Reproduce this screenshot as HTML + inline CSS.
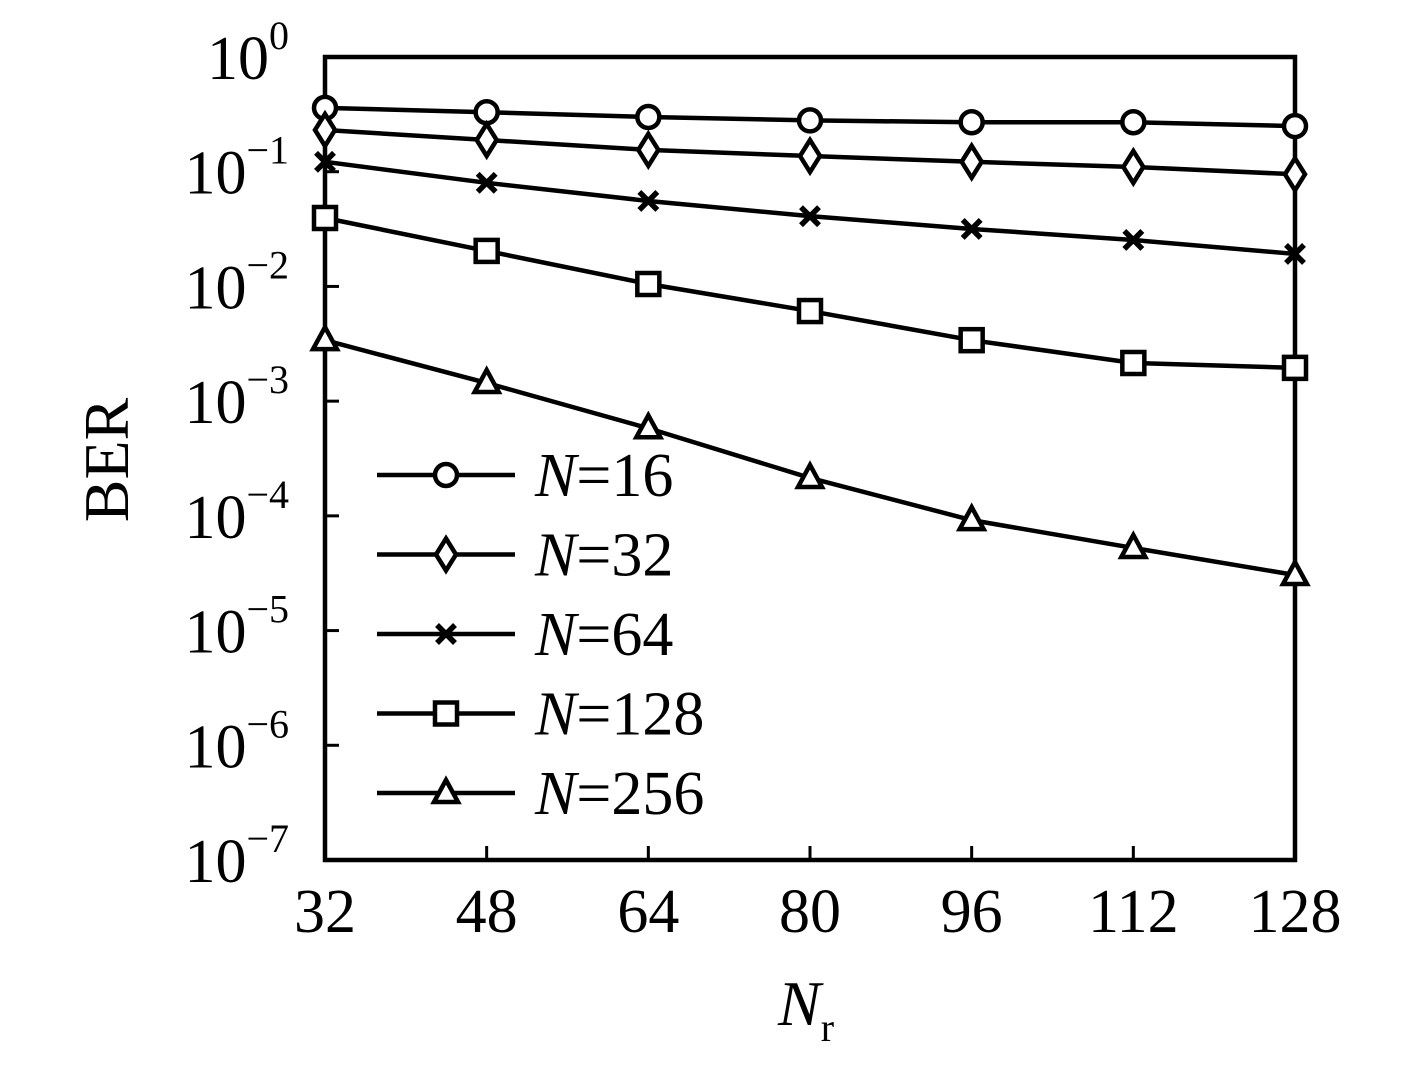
<!DOCTYPE html>
<html><head><meta charset="utf-8"><style>
html,body{margin:0;padding:0;background:#fff;}
svg text{font-family:"Liberation Serif",serif;fill:#000;}
</style></head><body>
<svg id="chart" width="1417" height="1060" viewBox="0 0 1417 1060" xmlns="http://www.w3.org/2000/svg">
<g id="plot"></g>
</svg>
<script>
const categories = [32, 48, 64, 80, 96, 112, 128];
const seriesNames = ["N=16","N=32","N=64","N=128","N=256"];
const markers = ["circle","diamond","cross","square","triangle"];
const s16 = [0.36, 0.33, 0.30, 0.28, 0.27, 0.27, 0.25];
const s32 = [0.231, 0.189, 0.155, 0.137, 0.122, 0.11, 0.095];
const s64 = [0.122, 0.080, 0.0556, 0.041, 0.0317, 0.0254, 0.0192];
const s128 = [0.0395, 0.0204, 0.0105, 0.0061, 0.0034, 0.00215, 0.00195];
const s256 = [0.0034, 0.00144, 0.00058, 0.000214, 0.0000918, 0.0000525, 0.0000305];
const yExps = [0, -1, -2, -3, -4, -5, -6, -7];

const NS = "http://www.w3.org/2000/svg";
const L = 325, R = 1295, T = 57, B = 860;
const xMin = 32, xMax = 128, yMaxE = 0, yMinE = -7;
function xs(v){ return L + (v - xMin) / (xMax - xMin) * (R - L); }
function ys(v){ return T + (yMaxE - Math.log10(v)) / (yMaxE - yMinE) * (B - T); }
const g = document.getElementById("plot");
function mk(tag, attrs, parent){ const e = document.createElementNS(NS, tag); for (const k in attrs) e.setAttribute(k, attrs[k]); (parent||g).appendChild(e); return e; }

const frame = mk("rect",{x:L,y:T,width:R-L,height:B-T,fill:"none",stroke:"#000","stroke-width":4.5});



yExps.forEach(e => {
  const y = ys(Math.pow(10, e));
  const t = mk("line",{x1:L,x2:L+14,y1:y,y2:y,stroke:"#000","stroke-width":3});
  
  
  const tx = mk("text",{x:L-36,y:y+22,"font-size":62,"text-anchor":"end"});
  
  
  const sup = e === 0 ? "0" : "\u2212" + Math.abs(e);
  tx.innerHTML = '10<tspan dy="-30" font-size="40">' + sup + '</tspan>';
});
categories.forEach(c => {
  const x = xs(c);
  const t = mk("line",{x1:x,x2:x,y1:B,y2:B-14,stroke:"#000","stroke-width":3});
  
  
  const tx = mk("text",{x:x,y:B+72,"font-size":62,"text-anchor":"middle"});
  
  
  tx.textContent = c;
});
const yt = mk("text",{x:0,y:0,"font-size":64,"text-anchor":"middle",transform:"translate(128,460) rotate(-90)"});


yt.textContent = "BER";
const xt = mk("text",{x:778,y:1025,"font-size":64,"font-style":"italic"});


xt.innerHTML = 'N<tspan dy="16" font-size="40" font-style="normal">r</tspan>';

function marker(type, x, y, parent){
  const st = {fill:"#fff",stroke:"#000","stroke-width":4.5};
  let m;
  if (type === "circle") m = mk("circle", Object.assign({cx:x,cy:y,r:11}, st), parent);
  else if (type === "diamond") m = mk("polygon", Object.assign({points:`${x},${y-16} ${x+10},${y} ${x},${y+16} ${x-10},${y}`}, st), parent);
  else if (type === "square") m = mk("rect", Object.assign({x:x-11,y:y-11,width:22,height:22}, st), parent);
  else if (type === "triangle") m = mk("polygon", Object.assign({points:`${x},${y-13} ${x+12},${y+9} ${x-12},${y+9}`}, st), parent);
  else m = mk("path",{d:`M${x-9},${y-9}L${x+9},${y+9}M${x+9},${y-9}L${x-9},${y+9}`,stroke:"#000","stroke-width":5.5,fill:"none"}, parent);
  
  
}
const allSeries = [s16, s32, s64, s128, s256];
allSeries.forEach((s, i) => {
  const sg = mk("g", {});
  
  
  const pts = s.map((v, j) => xs(categories[j]) + "," + ys(v)).join(" ");
  const pl = mk("polyline",{points:pts,fill:"none",stroke:"#000","stroke-width":4.5}, sg);
  
  
  s.forEach((v, j) => marker(markers[i], xs(categories[j]), ys(v), sg));
});
const lg = mk("g", {});


seriesNames.forEach((n, i) => {
  const y = 475 + i * 79.5;
  const eg = mk("g", {}, lg);
  
  
  mk("line",{x1:377,x2:515,y1:y,y2:y,stroke:"#000","stroke-width":4.5}, eg);
  marker(markers[i], 446, y, eg);
  const t = mk("text",{x:535,y:y+21,"font-size":62}, eg);
  
  
  t.innerHTML = '<tspan font-style="italic">N</tspan>=' + n.split('=')[1];
});
</script>
</body></html>
